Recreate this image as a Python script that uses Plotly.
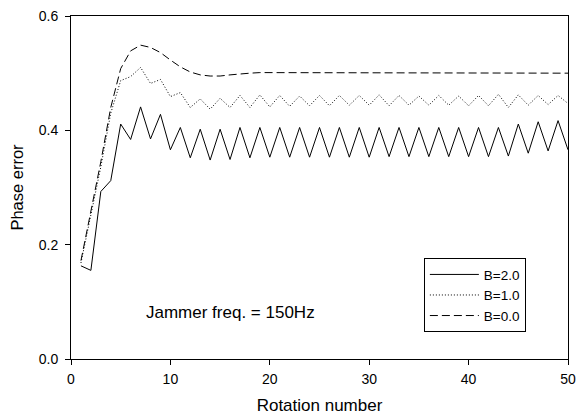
import plotly.graph_objects as go

rotation = list(range(1, 51))

b2 = [0.163, 0.155, 0.293, 0.312, 0.411, 0.384, 0.441, 0.385, 0.428, 0.366,
      0.405, 0.352, 0.402, 0.348, 0.402, 0.349, 0.405, 0.352, 0.405, 0.353,
      0.405, 0.353, 0.405, 0.353, 0.405, 0.353, 0.405, 0.353, 0.405, 0.353,
      0.405, 0.354, 0.405, 0.354, 0.405, 0.354, 0.405, 0.354, 0.405, 0.354,
      0.405, 0.354, 0.405, 0.355, 0.411, 0.360, 0.415, 0.364, 0.417, 0.366]

b1 = [0.168, 0.250, 0.336, 0.430, 0.487, 0.494, 0.510, 0.482, 0.489, 0.459,
      0.466, 0.440, 0.455, 0.437, 0.456, 0.440, 0.461, 0.440, 0.462, 0.441,
      0.461, 0.442, 0.460, 0.443, 0.461, 0.443, 0.461, 0.444, 0.461, 0.444,
      0.462, 0.443, 0.461, 0.444, 0.460, 0.444, 0.461, 0.444, 0.460, 0.443,
      0.461, 0.443, 0.463, 0.440, 0.462, 0.444, 0.461, 0.445, 0.461, 0.447]

b0 = [0.172, 0.258, 0.345, 0.440, 0.508, 0.539, 0.549, 0.545, 0.536, 0.523,
      0.511, 0.502, 0.497, 0.495, 0.495, 0.497, 0.499, 0.500, 0.501, 0.501,
      0.501, 0.501, 0.501, 0.501, 0.501, 0.501, 0.501, 0.501, 0.501, 0.501,
      0.500, 0.500, 0.500, 0.500, 0.500, 0.500, 0.500, 0.500, 0.500, 0.500,
      0.500, 0.500, 0.500, 0.500, 0.500, 0.500, 0.500, 0.500, 0.500, 0.500]

series_names = ["B=2.0", "B=1.0", "B=0.0"]
x_ticks = [0, 10, 20, 30, 40, 50]
y_ticks = [0.0, 0.2, 0.4, 0.6]

FONT = "Liberation Sans, Arial, sans-serif"

fig = go.Figure()
fig.add_trace(go.Scatter(x=rotation, y=b2, mode="lines", name=series_names[0],
                         line=dict(color="black", width=1, dash="solid")))
fig.add_trace(go.Scatter(x=rotation, y=b1, mode="lines", name=series_names[1],
                         line=dict(color="black", width=1, dash="1px,2px")))
fig.add_trace(go.Scatter(x=rotation, y=b0, mode="lines", name=series_names[2],
                         line=dict(color="black", width=1, dash="8px,4px")))

axis_common = dict(showline=True, linecolor="black", linewidth=1, mirror=True,
                   ticks="outside", ticklen=5, tickwidth=1, tickcolor="black",
                   showgrid=False, zeroline=False,
                   tickfont=dict(family=FONT, size=14, color="black"))

fig.update_xaxes(range=[0, 50], tickvals=x_ticks, ticklabelstandoff=2,
                 title=dict(text="Rotation number", standoff=14,
                            font=dict(family=FONT, size=17, color="black")),
                 **axis_common)
fig.update_yaxes(range=[0, 0.6], tickvals=y_ticks, tickformat=".1f",
                 ticklabelstandoff=4,
                 title=dict(text="Phase error", standoff=10,
                            font=dict(family=FONT, size=16.5, color="black")),
                 **axis_common)

fig.add_annotation(text="Jammer freq. = 150Hz", x=0.147, y=0.135,
                   xref="paper", yref="paper", xanchor="left", yanchor="middle",
                   showarrow=False,
                   font=dict(family=FONT, size=17, color="black"))

fig.update_layout(
    width=586, height=415,
    margin=dict(l=71, r=18, t=16, b=56, autoexpand=False),
    paper_bgcolor="white", plot_bgcolor="white",
    font=dict(family=FONT, size=14, color="black"),
    showlegend=True,
    legend=dict(x=0.71, y=0.294, xanchor="left", yanchor="top",
                bordercolor="black", borderwidth=1, bgcolor="white",
                itemwidth=49, tracegroupgap=0,
                font=dict(family=FONT, size=13.5, color="black")),
)

fig.write_html(
    "out.html",
    config={"displayModeBar": False},
    post_script="document.body.style.margin='0';document.body.style.padding='0';"
                "document.body.style.overflow='hidden';",
)
